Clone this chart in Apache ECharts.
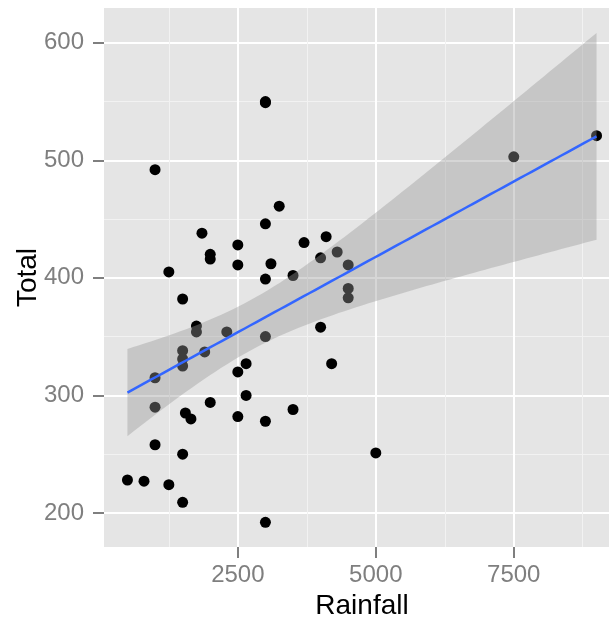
<!DOCTYPE html>
<html>
<head>
<meta charset="utf-8">
<script src="https://cdn.jsdelivr.net/npm/echarts@6/dist/echarts.min.js"></script>
<style>
  html, body { margin: 0; background: #fff; }
  #chart { width: 609px; height: 617px; }
</style>
</head>
<body>
<div id="chart"></div>
<script>
// data
const rainfall = [500, 800, 1000, 1000, 1000, 1000, 1250, 1250, 1500, 1500, 1500, 1500, 1500, 1500,
  1550, 1650, 1750, 1750, 1850, 1900, 2000, 2000, 2000, 2300, 2500, 2500, 2500, 2500, 2650, 2650,
  3000, 3000, 3000, 3000, 3000, 3000, 3000, 3100, 3250, 3500, 3500, 3700, 4000, 4000, 4100, 4200, 4300,
  4500, 4500, 4500, 5000, 7500, 9000]
const total = [228, 227, 492, 315, 290, 258, 405, 224, 382, 338, 331, 325, 250, 209,
  285, 280, 359, 354, 438, 337, 420, 416, 294, 354, 428, 411, 320, 282, 327, 300,
  550, 549, 446, 399, 350, 278, 192, 412, 461, 402, 288, 430, 417, 358, 435, 327, 422,
  411, 391, 383, 251, 503, 521]

const xTicks = [2500, 5000, 7500]
const xMinor = [1250, 3750, 6250, 8750]
const yTicks = [200, 300, 400, 500, 600]
const yMinor = [250, 350, 450, 550]

const font = "'Liberation Sans', Arial, Helvetica, sans-serif"

// linear fit + 95% confidence band (like geom_smooth(method = 'lm'))
function lmBand(xs, ys, steps) {
  const n = xs.length
  const mx = xs.reduce((a, b) => a + b, 0) / n
  const my = ys.reduce((a, b) => a + b, 0) / n
  let sxx = 0, sxy = 0
  for (let i = 0; i < n; i++) {
    sxx += (xs[i] - mx) * (xs[i] - mx)
    sxy += (xs[i] - mx) * (ys[i] - my)
  }
  const b = sxy / sxx
  const a = my - b * mx
  let sse = 0
  for (let i = 0; i < n; i++) {
    const r = ys[i] - (a + b * xs[i])
    sse += r * r
  }
  const s = Math.sqrt(sse / (n - 2))
  const t = 2.0076 // qt(0.975, 51)
  const lo = Math.min(...xs), hi = Math.max(...xs)
  const fit = [], lower = [], upper = []
  for (let k = 0; k <= steps; k++) {
    const x = lo + (hi - lo) * k / steps
    const y = a + b * x
    const se = s * Math.sqrt(1 / n + (x - mx) * (x - mx) / sxx)
    fit.push([x, y])
    lower.push([x, y - t * se])
    upper.push([x, y + t * se])
  }
  return { fit, lower, upper }
}

const band = lmBand(rainfall, total, 80)

const chart = echarts.init(document.getElementById('chart'))
chart.setOption({
  animation: false,
  backgroundColor: '#fff',
  grid: {
    left: 104,
    top: 8,
    width: 516,
    height: 539,
    outerBoundsMode: 'none',
    containLabel: false,
    show: true,
    backgroundColor: '#E5E5E5',
    borderWidth: 0
  },
  xAxis: [{
    type: 'value',
    min: 75,
    max: 9425,
    name: 'Rainfall',
    nameLocation: 'middle',
    nameGap: 26,
    nameTextStyle: { color: '#000', fontSize: 28, fontFamily: font },
    axisLine: { show: false },
    axisTick: { show: true, customValues: xTicks, length: 11, lineStyle: { color: '#7F7F7F', width: 2 } },
    axisLabel: { customValues: xTicks, formatter: v => String(v), color: '#7F7F7F', fontSize: 24, margin: 16, fontFamily: font },
    splitLine: { show: true, lineStyle: { color: '#fff', width: 2 } }
  }, {
    // minor grid
    type: 'value',
    min: 75,
    max: 9425,
    position: 'bottom',
    axisLine: { show: false },
    axisTick: { show: false, customValues: xMinor },
    axisLabel: { show: false },
    splitLine: { show: true, lineStyle: { color: '#F2F2F2', width: 1 } }
  }],
  yAxis: [{
    type: 'value',
    min: 171,
    max: 629.6,
    name: 'Total',
    nameLocation: 'middle',
    nameRotate: 90,
    nameGap: 62,
    nameMoveOverlap: false,
    nameTextStyle: { color: '#000', fontSize: 28, fontFamily: font },
    axisLine: { show: false },
    axisTick: { show: true, customValues: yTicks, length: 11, lineStyle: { color: '#7F7F7F', width: 2 } },
    axisLabel: { customValues: yTicks, formatter: v => String(v), color: '#7F7F7F', fontSize: 24, margin: 20, fontFamily: font },
    splitLine: { show: true, lineStyle: { color: '#fff', width: 2 } }
  }, {
    type: 'value',
    min: 171,
    max: 629.6,
    position: 'left',
    axisLine: { show: false },
    axisTick: { show: false, customValues: yMinor },
    axisLabel: { show: false },
    splitLine: { show: true, lineStyle: { color: '#F2F2F2', width: 1 } }
  }],
  series: [
    {
      type: 'scatter',
      data: rainfall.map((x, i) => [x, total[i]]),
      symbolSize: 11,
      itemStyle: { color: '#000', opacity: 1 },
      z: 1,
      silent: true
    },
    {
      // ribbon drawn over the points, as ggplot does
      type: 'custom',
      data: band.upper,
      z: 3,
      silent: true,
      renderItem(params, api) {
        if (params.dataIndex !== 0) return null
        const pts = band.upper.map(p => api.coord(p))
          .concat(band.lower.slice().reverse().map(p => api.coord(p)))
        return {
          type: 'polygon',
          shape: { points: pts },
          style: { fill: 'rgba(153,153,153,0.4)' }
        }
      }
    },
    {
      type: 'line',
      data: band.fit,
      symbol: 'none',
      z: 4,
      lineStyle: { color: '#3366FF', width: 2.5 },
      silent: true
    }
  ]
})
</script>
</body>
</html>
